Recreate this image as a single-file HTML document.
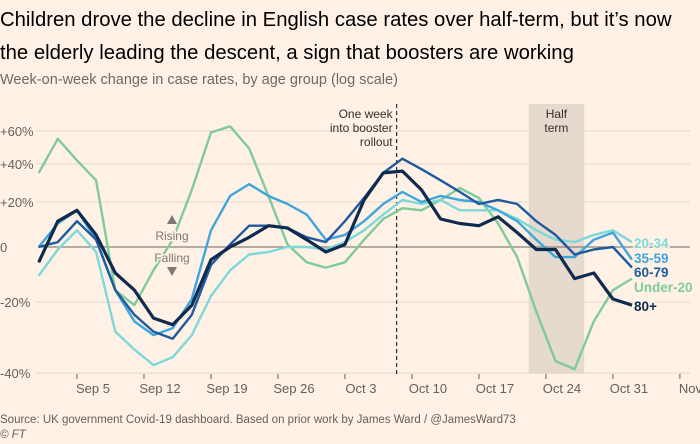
<!DOCTYPE html>
<html><head><meta charset="utf-8">
<style>
body{margin:0;background:#fff1e5;font-family:"Liberation Sans",sans-serif;}
#wrap{position:relative;width:700px;height:444px;overflow:hidden;background:#fff1e5;}
.t{position:absolute;left:0;color:#000;}
.halo{paint-order:stroke;stroke:#fff1e5;stroke-width:3px;}
</style></head><body>
<div id="wrap">
<div class="t" style="top:4px;font-size:20.3px;line-height:33px;color:#000;">Children drove the decline in English case rates over half-term, but it’s now<br>the elderly leading the descent, a sign that boosters are working</div>
<div class="t" style="top:72px;font-size:14.5px;color:#6f6863;">Week-on-week change in case rates, by age group (log scale)</div>
<svg id="chart" width="700" height="444" style="position:absolute;left:0;top:0;"></svg>
<div class="t" style="top:414px;font-size:11.5px;color:#66605c;">Source: UK government Covid-19 dashboard. Based on prior work by James Ward / @JamesWard73</div>
<div class="t" style="top:429px;font-size:11.5px;color:#66605c;font-style:italic;">© FT</div>
</div>
<script>
const days=[0,2,4,6,8,10,12,14,16,18,20,22,24,26,28,30,32,34,36,38,40,42,44,46,48,50,52,54,56,58,60,62];
const under20=[35,55,42,31,-16,-21,-9,3,26,59,63,49,23,1,-6,-8,-6,3,12,17,16,21,27,22,10,-4,-23,-37,-39,-26,-16,-12];
const age2034=[-11,-1,7,-2,-29,-34,-38,-36,-30,-18,-9,-3,-2,0,0,-1,2,7,14,21,19,21,16,16,16,12,7,3,2,5,7,2];
const age3559=[0,10,16,3,-16,-26,-30,-28,-19,7,23,29,23,19,14,3,5,11,19,25,20,23,21,20,16,11,3,-4,-4,3,6,-5];
const age6079=[0,2,11,3,-16,-24,-29,-31,-24,-7,1,9,9,8,4,2,11,22,35,43,37,31,25,19,21,19,11,5,-3,-1,0,-8];
const age80=[-6,11,16,5,-10,-16,-25,-27,-21,-5,0,4,9,8,3,-2,1,21,35,36,26,12,10,9,13,6,-1,-1,-12,-10,-19,-21];
const yTicks=[60,40,20,0,-20,-40];
const yTickLabels=["+60%","+40%","+20%","0","-20%","-40%"];
const xTickDays=[4,11,18,25,32,39,46,53,60,67];
const xTickLabels=["Sep 5","Sep 12","Sep 19","Sep 26","Oct 3","Oct 10","Oct 17","Oct 24","Oct 31","Nov 7"];
const halfTerm=[51.2,57];
const boosterDay=37.4;

const NS="http://www.w3.org/2000/svg";
const svg=document.getElementById('chart');
const X=d=>38.7+9.57*d;
const Y=p=>247-247*Math.log(1+p/100);
function mk(t,a){const e=document.createElementNS(NS,t);for(const k in a)e.setAttribute(k,a[k]);svg.appendChild(e);return e;}

const hs=mk('rect',{x:X(halfTerm[0]),y:104,width:X(halfTerm[1])-X(halfTerm[0]),height:Y(-40)-104,fill:'#e6d9ce'});



yTicks.forEach((v,i)=>{
  const g=mk('line',{x1:v===0?38:36,x2:690,y1:Y(v),y2:Y(v),stroke:v===0?'#8c837c':'#e3d6ca','stroke-width':v===0?1.3:1});
  
  
  const t=mk('text',{x:0,y:Y(v)+5,'font-size':'13','fill':'#66605c'});
  t.textContent=yTickLabels[i];
  
  
});
const hx=(X(halfTerm[0])+X(halfTerm[1]))/2;
const ht=mk('text',{x:hx,y:118,'text-anchor':'middle','font-size':'12','fill':'#33302e'});
ht.innerHTML='<tspan x="'+hx+'" dy="0">Half</tspan><tspan x="'+hx+'" dy="14">term</tspan>';



xTickDays.forEach((d,i)=>{
  const tk=mk('line',{x1:X(d),x2:X(d),y1:374,y2:379,stroke:'#66605c'});
  
  
  const t=mk('text',{x:X(d)+16,y:393,'text-anchor':'middle','font-size':'13','fill':'#66605c'});
  t.textContent=xTickLabels[i];
  
  
});

const bl=mk('line',{x1:X(boosterDay),x2:X(boosterDay),y1:104,y2:374,stroke:'#33302e','stroke-dasharray':'4,3','stroke-width':1.2});


const bx=X(boosterDay)-4;
const bt=mk('text',{x:bx,y:118,'text-anchor':'end','font-size':'12','fill':'#33302e'});
bt.innerHTML='<tspan x="'+bx+'">One week</tspan><tspan x="'+bx+'" dy="14">into booster</tspan><tspan x="'+bx+'" dy="14">rollout</tspan>';



const series=[
 {n:'under-20',v:under20,c:'#7fcc98',w:2.4,l:'Under-20',ly:292},
 {n:'20-34',v:age2034,c:'#7fd8d8',w:2.4,l:'20-34',ly:248},
 {n:'35-59',v:age3559,c:'#3ea6dc',w:2.4,l:'35-59',ly:263},
 {n:'60-79',v:age6079,c:'#1f5a9c',w:2.4,l:'60-79',ly:277},
 {n:'80-plus',v:age80,c:'#0e2a4e',w:3.2,l:'80+',ly:311}
];
series.forEach(s=>{
  const p=mk('polyline',{points:s.v.map((v,i)=>X(days[i]).toFixed(1)+','+Y(v).toFixed(1)).join(' '),fill:'none',stroke:s.c,'stroke-width':s.w,'stroke-linejoin':'round'});
  
  
});
series.forEach(s=>{
  const t=mk('text',{x:634,y:s.ly,'font-size':'13.5','font-weight':'bold',fill:s.c,'class':'halo'});
  t.textContent=s.l;
  
  
});

const r1=mk('text',{x:172,y:240,'text-anchor':'middle','font-size':'12','fill':'#807973','class':'halo'});r1.textContent='Rising';


const r2=mk('text',{x:172,y:262,'text-anchor':'middle','font-size':'12','fill':'#807973','class':'halo'});r2.textContent='Falling';


const a1=mk('polygon',{points:'167,224 177,224 172,215',fill:'#807973'});


const a2=mk('polygon',{points:'167,267 177,267 172,276',fill:'#807973'});


</script>
</body></html>
